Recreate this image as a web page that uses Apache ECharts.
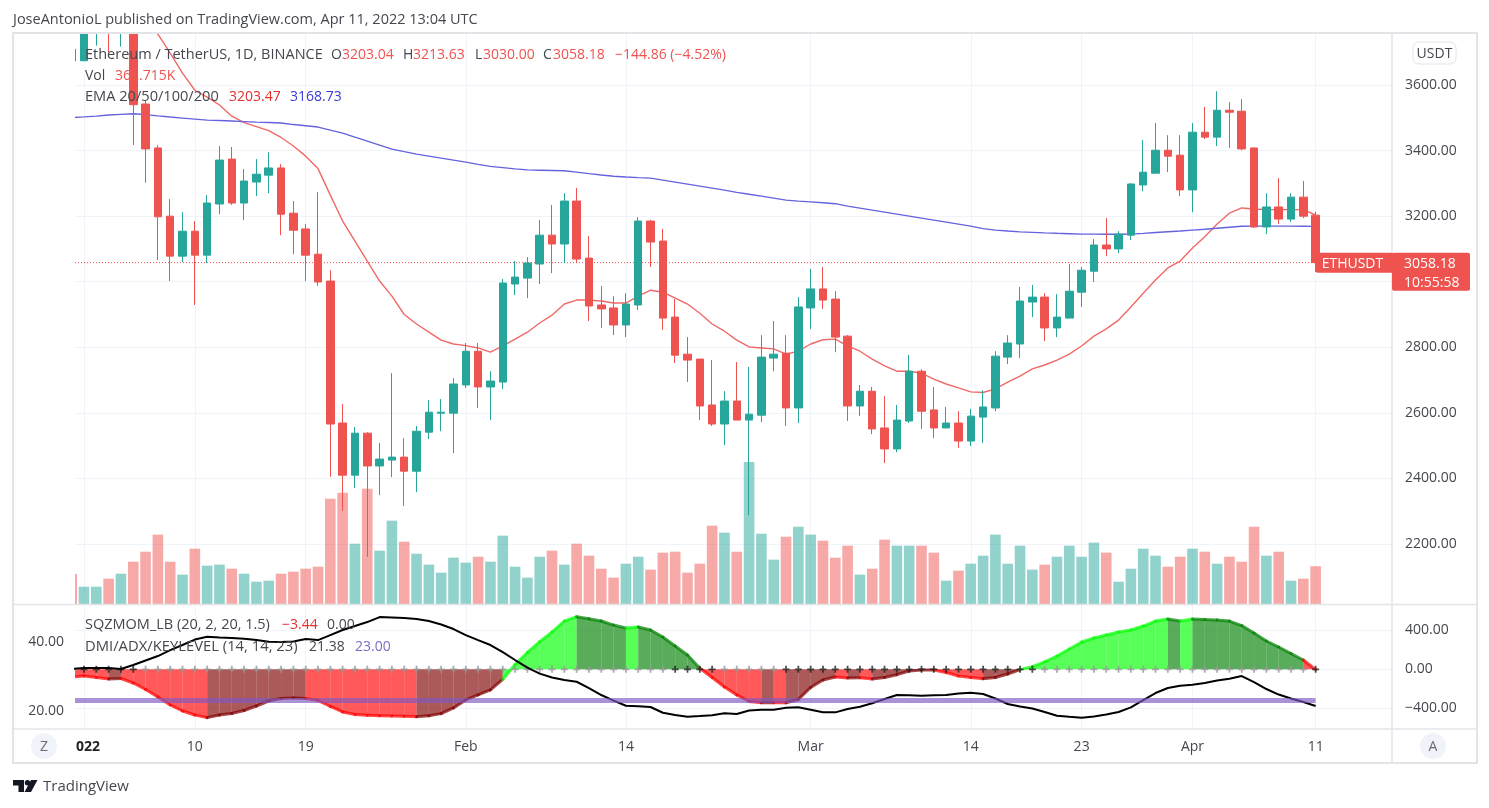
<!DOCTYPE html>
<html>
<head>
<meta charset="utf-8">
<title>ETHUSDT</title>
<script src="https://cdn.jsdelivr.net/npm/echarts@6/dist/echarts.min.js"></script>
<style>
    html, body { margin: 0; background: #fff; }
    #chart { width: 1489px; height: 808px; }
</style>
</head>
<body>
<div id="chart"></div>
<script>
// day number counted from 1 Jan 2022, first entry is 31 Dec
const days = Array.from({ length: 102 }, (_, i) => i - 1)

const opens = [3709,3674,3765,3829,3761,3794,3542,3408,3200,3078,3154,3081,3237,3374,3240,3304,3325,3347,3209,3161,
    3084,3002,2569,2410,2538,2438,2456,2465,2422,2541,2599,2599,2685,2788,2679,2694,2993,3011,3054,3142,
    3115,3246,3072,2929,2920,2868,2929,3185,3124,2892,2779,2764,2624,2566,2636,2578,2593,2767,2782,2615,
    2920,2978,2947,2834,2621,2666,2554,2490,2575,2727,2609,2554,2569,2514,2587,2615,2770,2810,2938,2953,
    2859,2889,2968,3032,3112,3100,3142,3295,3331,3401,3386,3280,3456,3441,3523,3520,3408,3167,3228,3191,
    3258,3203.04]
const closes = [3673,3765,3829,3761,3794,3540,3405,3198,3078,3154,3081,3240,3371,3240,3307,3328,3347,3206,3157,3081,
    2999,2566,2410,2538,2438,2459,2465,2422,2544,2602,2602,2688,2788,2679,2697,2996,3014,3057,3142,3115,
    3246,3069,2926,2917,2868,2932,3185,3121,2889,2776,2761,2621,2566,2636,2578,2596,2770,2779,2615,2923,
    2978,2944,2831,2621,2666,2551,2490,2578,2727,2605,2554,2569,2514,2590,2618,2773,2813,2941,2953,2859,
    2892,2971,3035,3112,3100,3145,3298,3334,3401,3383,3280,3456,3441,3523,3517,3405,3167,3228,3191,3258,
    3200,3058.18]
const lows = [3630,3674,3720,3700,3717,3417,3302,3066,3002,3060,2929,3057,3206,3234,3188,3261,3270,3142,3084,3002,
    2987,2405,2301,2371,2161,2349,2404,2316,2358,2520,2544,2477,2676,2615,2578,2673,2959,2950,2993,3026,
    3057,3057,2880,2859,2837,2831,2914,3045,2853,2752,2694,2578,2560,2502,2578,2288,2572,2727,2560,2569,
    2856,2917,2785,2575,2590,2535,2447,2480,2569,2551,2523,2554,2493,2499,2508,2605,2749,2767,2892,2819,
    2831,2889,2923,2999,3078,3087,3127,3276,3331,3334,3261,3212,3435,3414,3408,3401,3164,3145,3176,3182,
    3194,3030]
const highs = [3770,3776,3860,3900,3882,3845,3554,3416,3252,3212,3185,3264,3414,3411,3344,3374,3395,3359,3246,3176,
    3273,3035,2627,2557,2541,2508,2721,2523,2560,2639,2642,2706,2813,2813,2727,3008,3063,3075,3188,3234,
    3270,3286,3139,2987,2956,2965,3197,3188,3161,2947,2831,2764,2761,2666,2755,2740,2837,2880,2837,2953,
    3039,3045,2971,2837,2685,2679,2651,2624,2776,2733,2679,2618,2605,2612,2669,2788,2837,2984,2990,2965,
    2962,3054,3045,3130,3194,3154,3301,3432,3484,3447,3447,3484,3533,3581,3548,3557,3408,3270,3316,3270,
    3307,3213.63]

// volume, thousands
const volumes = [288,166,166,243,291,406,502,666,406,282,531,368,378,339,291,214,224,291,310,339,
    358,1011,1069,579,1107,512,800,598,483,378,301,445,397,454,406,656,358,253,454,512,
    378,579,464,339,253,387,454,330,493,502,301,387,752,685,502,1363,675,426,646,742,
    666,608,445,560,282,339,618,560,560,560,493,224,320,387,464,666,387,560,330,378,
    454,560,454,589,493,214,339,531,464,358,454,531,502,387,454,406,742,464,502,224,
    243,362.715]

const ema20 = [3880,3870,3862,3855,3848,3835,3800,3755,3697,3636,3584,3563,3539,3505,3485,3473,3461,3440,3414,3383,
    3345,3264,3185,3124,3063,3002,2956,2900,2871,2846,2822,2810,2805,2798,2785,2804,2825,2846,2874,2898,
    2932,2944,2944,2941,2935,2935,2956,2974,2968,2950,2932,2904,2871,2849,2822,2801,2798,2795,2779,2788,
    2810,2823,2825,2804,2788,2764,2743,2727,2727,2721,2703,2688,2676,2664,2662,2673,2694,2712,2734,2746,
    2761,2779,2804,2834,2856,2883,2923,2965,3005,3042,3063,3103,3137,3176,3209,3225,3222,3220,3220,3220,
    3220,3203.47]
const ema200 = [3500.6,3502.8,3505.2,3508.3,3510.4,3512.2,3509.8,3505.8,3502.2,3499.1,3496,3493,3491.5,3490,3488.4,3486.9,3485.7,3483.9,3479.3,3475.6,
    3471.7,3462.5,3453.4,3441.2,3429,3416.8,3404.6,3396.9,3389.3,3383.2,3377.1,3371,3364.9,3357.9,3351.8,3348.1,3344.2,3341.1,3340.2,3339.3,
    3338.4,3334.4,3329.8,3325.3,3321.6,3319.2,3317.6,3316.1,3310,3303.9,3297.8,3291.7,3285.6,3279.5,3272.5,3266.7,3261.2,3255.1,3249,3245.9,
    3243.5,3240.8,3238,3230.7,3224.6,3218.5,3212.4,3206.3,3200.2,3194.1,3188,3181.9,3175.8,3169.7,3162,3157.5,3154.5,3152,3150.5,3149,
    3147.7,3146.5,3145.3,3145,3144.7,3144.7,3145.3,3147.4,3150.2,3152.6,3154.5,3157.5,3160,3163,3166,3169.1,3169.7,3169.7,3169.7,3169.4,
    3169.1,3168.73]

// squeeze momentum, and its colour per day: r red, m maroon, l lime, g green
const momentum = [-79,-68,-84,-99,-94,-140,-206,-283,-365,-426,-467,-494,-467,-451,-421,-375,-324,-298,-293,-298,
    -319,-380,-436,-461,-470,-474,-477,-480,-484,-475,-453,-395,-313,-262,-211,-104,49,172,282,381,
    493,537,517,493,452,422,432,401,330,238,146,10,-84,-181,-262,-329,-341,-341,-343,-308,
    -186,-109,-79,-89,-86,-99,-84,-55,-17,-7,-7,-33,-68,-84,-96,-84,-48,-3,27,75,
    136,207,279,320,350,381,401,442,493,514,493,514,508,503,493,447,371,289,228,161,
    95,-3.44]
const momentumState = 'rrrrm' + 'rrrrrrr' + 'mmmmmmmm' + 'rrrrrrrrr' + 'mmmmmmm' + 'llllll' + 'gggg' + 'l' + 'ggggg' +
    'rrrrr' + 'm' + 'r' + 'mmmm' + 'r' + 'm' + 'r' + 'mmmmm' + 'rrrr' + 'mmm' + 'llllllllllll' + 'g' + 'l' + 'ggggggggg' + 'r'
// 1 means squeeze on (black cross), 0 off (grey cross)
const squeeze = [1,1,1,1,1,1,0,0,0,0,0,0,0,0,0,0,0,0,0,0,
    0,0,0,0,0,0,0,0,0,0,0,0,0,0,0,0,0,0,0,0,
    0,0,0,0,0,0,0,0,0,1,1,1,1,0,0,0,0,0,1,1,
    1,1,1,1,1,1,1,1,1,1,1,1,1,1,1,1,1,1,1,0,
    0,0,0,0,0,0,0,0,0,0,0,0,0,0,0,0,0,0,0,0,
    0,1]

const adx = [32.09,32.38,32.38,32.38,32.09,33.25,34.55,35.85,37.59,39.05,40.64,41.45,41.22,41.07,40.87,40.49,40,39.91,40.06,40.78,
    40.49,41.94,43.4,44.55,45.71,47.16,47.02,46.87,46.58,46,44.99,43.68,41.94,40.49,39.05,37.01,34.7,32.52,30.77,29.62,
    28.9,28.4,26.57,24.55,22.95,21.45,21.27,21.07,19.42,18.75,18.26,18.46,18.67,19.25,19.05,20.05,20.28,20.28,20.87,20.98,
    20.28,19.53,19.53,20.49,21.16,22.15,23.39,24.55,24.47,24.35,24.47,24.55,24.98,25.22,24.84,23.54,21.95,21.22,20.64,19.63,
    18.55,18.23,17.97,18.32,18.9,19.63,20.98,23.1,25.13,26.58,27.25,27.53,28.03,28.75,29.28,30.06,28.32,26.29,24.69,23.54,
    22.55,21.38]
const keyLevel = 23

const priceTicks = [2200, 2400, 2600, 2800, 3000, 3200, 3400, 3600]
const priceLabels = [2200, 2400, 2600, 2800, 3200, 3400, 3600]
const momentumTicks = [-400, 0, 400]
const adxTicks = [20, 40]
const gridDays = [0, 9, 18, 31, 44, 59, 72, 81, 90, 100]
// 2022 is cut by the pane edge in the picture, so its label sits a bit to the right
const labelDays = [0.33, 9, 18, 31, 44, 59, 72, 81, 90, 100]
const dayLabels = ['022', '10', '19', 'Feb', '14', 'Mar', '14', '23', 'Apr', '11']

const DAY_MIN = -0.73
const DAY_MAX = 106.2
const TEAL = '#26a69a'
const RED = '#ef5350'
const DARK = '#45474f'
const GRID = '#f0f3fa'
const FRAME = '#e3e4e8'
const FONT = '"Open Sans", sans-serif'
const stateColor = {
    r: 'rgba(255,0,0,',
    m: 'rgba(128,0,0,',
    l: 'rgba(0,255,0,',
    g: 'rgba(0,128,0,'
}

const chart = echarts.init(document.getElementById('chart'))

function initChart() {
    const dayAxis = {
        type: 'value',
        min: DAY_MIN,
        max: DAY_MAX,
        axisLine: { show: false },
        axisTick: { show: false, customValues: gridDays },
        splitLine: { show: true, lineStyle: { color: GRID, width: 1 } }
    }
    const numLabel = {
        color: DARK,
        fontSize: 14,
        fontFamily: FONT,
        padding: [4, 0, 0, 0],
        formatter: v => v.toFixed(2).replace('-', '\u2212')
    }
    const lastClose = closes[closes.length - 1]
    chart.setOption({
        animation: false,
        backgroundColor: '#fff',
        grid: [
            { left: 75, right: 97, top: 33, height: 571 },
            { left: 75, right: 97, top: 604.5, height: 124.5 }
        ],
        xAxis: [
            { ...dayAxis, gridIndex: 0, axisLabel: { show: false } },
            {
                ...dayAxis,
                gridIndex: 1,
                axisLabel: {
                    customValues: labelDays,
                    color: DARK,
                    fontSize: 14,
                    fontFamily: FONT,
                    margin: 11,
                    formatter: v => {
                        const i = labelDays.indexOf(v)
                        return i === 0 ? `{b|${dayLabels[0]}}` : dayLabels[i]
                    },
                    rich: { b: { fontWeight: 'bold', fontSize: 14, fontFamily: FONT, color: '#222' } }
                }
            }
        ],
        yAxis: [
            {
                type: 'value',
                gridIndex: 0,
                position: 'right',
                min: 2017,
                max: 3758.6,
                axisLine: { show: false },
                axisTick: { show: false, customValues: priceTicks },
                axisLabel: { ...numLabel, customValues: priceLabels, margin: 13 },
                splitLine: { show: true, lineStyle: { color: GRID, width: 1 } }
            },
            // volume sits at the bottom of the price pane
            {
                type: 'value',
                gridIndex: 0,
                position: 'left',
                min: 0,
                max: 5482,
                show: false,
                splitLine: { show: false }
            },
            {
                type: 'value',
                gridIndex: 1,
                position: 'right',
                min: -610,
                max: 662,
                axisLine: { show: false },
                axisTick: { show: false, customValues: momentumTicks },
                axisLabel: { ...numLabel, customValues: momentumTicks, margin: 13 },
                splitLine: { show: true, lineStyle: { color: GRID, width: 1 } }
            },
            {
                type: 'value',
                gridIndex: 1,
                position: 'left',
                min: 14.7,
                max: 50.8,
                axisLine: { show: false },
                axisTick: { show: false, customValues: adxTicks },
                axisLabel: { ...numLabel, customValues: adxTicks, margin: 11 },
                splitLine: { show: false }
            }
        ],
        series: [
            {
                type: 'bar',
                xAxisIndex: 0,
                yAxisIndex: 1,
                barWidth: 10.6,
                z: 1,
                data: days.map((d, i) => ({
                    value: [d, volumes[i]],
                    itemStyle: { color: closes[i] >= opens[i] ? 'rgba(38,166,154,0.5)' : 'rgba(239,83,80,0.5)' }
                }))
            },
            {
                type: 'line',
                xAxisIndex: 0,
                yAxisIndex: 0,
                symbol: 'none',
                z: 2,
                lineStyle: { color: '#ef6a67', width: 1.4 },
                data: days.map((d, i) => [d, ema20[i]])
            },
            {
                type: 'line',
                xAxisIndex: 0,
                yAxisIndex: 0,
                symbol: 'none',
                z: 2,
                lineStyle: { color: '#6363de', width: 1.4 },
                data: days.map((d, i) => [d, ema200[i]])
            },
            // last price, dotted
            {
                type: 'line',
                xAxisIndex: 0,
                yAxisIndex: 0,
                symbol: 'none',
                z: 2,
                lineStyle: { color: RED, width: 1, type: [1, 2] },
                data: [[DAY_MIN, lastClose], [days[days.length - 1], lastClose]]
            },
            {
                type: 'candlestick',
                xAxisIndex: 0,
                yAxisIndex: 0,
                barWidth: 8,
                z: 3,
                itemStyle: { color: TEAL, color0: RED, borderColor: TEAL, borderColor0: RED, borderWidth: 1 },
                encode: { x: 0, y: [1, 2, 3, 4] },
                data: days.map((d, i) => [d, opens[i], closes[i], lows[i], highs[i]])
            },
            {
                type: 'custom',
                xAxisIndex: 1,
                yAxisIndex: 2,
                clip: true,
                z: 1,
                encode: { x: 0, y: 1 },
                data: days.map((d, i) => [d, momentum[i]]),
                renderItem: (params, api) => {
                    const i = params.dataIndex
                    if (i === 0) return
                    const a = api.coord([days[i - 1], momentum[i - 1]])
                    const b = api.coord([days[i], momentum[i]])
                    const a0 = api.coord([days[i - 1], 0])
                    const b0 = api.coord([days[i], 0])
                    const c = stateColor[momentumState[i]]
                    return {
                        type: 'group',
                        children: [
                            { type: 'polygon', shape: { points: [a, b, b0, a0] }, style: { fill: c + '0.65)' } },
                            {
                                type: 'line',
                                shape: { x1: a[0], y1: a[1], x2: b[0], y2: b[1] },
                                style: { stroke: c + '0.7)', lineWidth: 3, lineCap: 'round' }
                            }
                        ]
                    }
                }
            },
            {
                type: 'scatter',
                xAxisIndex: 1,
                yAxisIndex: 2,
                symbol: 'path://M2.6 0h1.8v2.6H7v1.8H4.4V7H2.6V4.4H0V2.6h2.6z',
                symbolSize: 7,
                z: 2,
                data: days.map((d, i) => ({
                    value: [d, 0],
                    itemStyle: { color: squeeze[i] ? '#222' : '#969696' }
                }))
            },
            {
                type: 'line',
                xAxisIndex: 1,
                yAxisIndex: 3,
                symbol: 'none',
                z: 3,
                lineStyle: { color: '#000', width: 2 },
                data: days.map((d, i) => [d, adx[i]])
            },
            {
                type: 'line',
                xAxisIndex: 1,
                yAxisIndex: 3,
                symbol: 'none',
                z: 4,
                lineStyle: { color: 'rgba(126,87,194,0.65)', width: 5 },
                data: days.map(d => [Math.max(d, DAY_MIN), keyLevel])
            }
        ]
    })
}

function txt(x, y, text, fill, size = 14, align = 'left') {
    return {
        type: 'text',
        z: 100,
        silent: true,
        style: { x, y: y + 1.2, text, fill, align, verticalAlign: 'middle', font: `${size}px ${FONT}` }
    }
}

function line(x1, y1, x2, y2) {
    return { type: 'line', z: 90, silent: true, shape: { x1, y1, x2, y2 }, style: { stroke: FRAME, lineWidth: 1.5 } }
}

function cover(x, y, width, height) {
    return { type: 'rect', z: 70, silent: true, shape: { x, y, width, height }, style: { fill: '#fff' } }
}

function initOverlay() {
    const lastClose = closes[closes.length - 1]
    const tagY = chart.convertToPixel({ yAxisIndex: 0 }, lastClose)
    const tagX = chart.convertToPixel({ xAxisIndex: 0 }, days[days.length - 1])
    const elements = [
        // candles and bars are not cut at the pane edge by the library
        cover(0, 0, 1489, 33),
        cover(0, 33, 75, 571),
        { type: 'rect', z: 80, silent: true, shape: { x: 13, y: 33, width: 1464, height: 730 }, style: { fill: 'none', stroke: FRAME, lineWidth: 2 } },
        line(13, 604.5, 1477, 604.5),
        line(13, 729, 1477, 729),
        line(1392, 33, 1392, 763),

        txt(13, 19, 'JoseAntonioL published on TradingView.com, Apr 11, 2022 13:04 UTC', DARK, 14.5),

        txt(85, 53.5, 'Ethereum / TetherUS, 1D, BINANCE', DARK, 14.5),
        txt(331, 53.5, 'O', DARK), txt(342, 53.5, '3203.04', RED),
        txt(403, 53.5, 'H', DARK), txt(413, 53.5, '3213.63', RED),
        txt(475, 53.5, 'L', DARK), txt(483, 53.5, '3030.00', RED),
        txt(543, 53.5, 'C', DARK), txt(553, 53.5, '3058.18', RED),
        txt(615, 53.5, '\u2212144.86 (\u22124.52%)', RED),

        txt(85, 75, 'Vol', DARK), txt(115, 75, '362.715K', RED),

        txt(85, 96, 'EMA 20/50/100/200', DARK, 14.6),
        txt(229, 96, '3203.47', '#e53030'),
        txt(290, 96, '3168.73', '#3a3ad8'),

        txt(85, 624, 'SQZMOM_LB (20, 2, 20, 1.5)', DARK, 14.5),
        txt(282, 624, '\u22123.44', '#e53030'),
        txt(327, 624, '0.00', DARK),

        txt(85, 645.5, 'DMI/ADX/KEYLEVEL (14, 14, 23)', DARK, 14.8),
        txt(309, 645.5, '21.38', DARK),
        txt(355, 645.5, '23.00', '#7e6bc2'),

        // last price tag
        { type: 'rect', z: 95, silent: true, shape: { x: tagX, y: tagY - 10, width: 78, height: 20, r: 2 }, style: { fill: RED } },
        { type: 'rect', z: 95, silent: true, shape: { x: 1392, y: tagY - 10, width: 78, height: 38, r: 2 }, style: { fill: RED } },
        txt(tagX + 6, tagY, 'ETHUSDT', '#fff'),
        txt(1404, tagY, lastClose.toFixed(2), '#fff'),
        txt(1404, tagY + 19, '10:55:58', '#fff'),

        // currency button and corner buttons
        { type: 'rect', z: 95, silent: true, shape: { x: 1413, y: 42, width: 43, height: 22, r: 6 }, style: { fill: '#fff', stroke: '#e0e3eb', lineWidth: 1 } },
        txt(1434.5, 53, 'USDT', DARK, 14, 'center'),
        { type: 'circle', z: 95, silent: true, shape: { cx: 44, cy: 746, r: 13 }, style: { fill: '#f0f3fa' } },
        txt(44, 745.5, 'Z', '#6a6d78', 14, 'center'),
        { type: 'circle', z: 95, silent: true, shape: { cx: 1433, cy: 746, r: 13 }, style: { fill: '#f0f3fa' } },
        txt(1433, 745.5, 'A', '#6a6d78', 14, 'center'),

        // footer logo
        { type: 'polygon', z: 95, silent: true, shape: { points: [[13, 780], [24, 780], [24, 792], [18.5, 792], [18.5, 785.5], [13, 785.5]] }, style: { fill: '#131722' } },
        { type: 'circle', z: 95, silent: true, shape: { cx: 27.5, cy: 782.7, r: 2.7 }, style: { fill: '#131722' } },
        { type: 'polygon', z: 95, silent: true, shape: { points: [[31, 780], [37.5, 780], [31, 792], [24.5, 792]] }, style: { fill: '#131722' } },
        txt(43, 786, 'TradingView', DARK, 15)
    ]
    chart.setOption({ graphic: { elements } })
}

initChart()
initOverlay()
</script>
</body>
</html>
